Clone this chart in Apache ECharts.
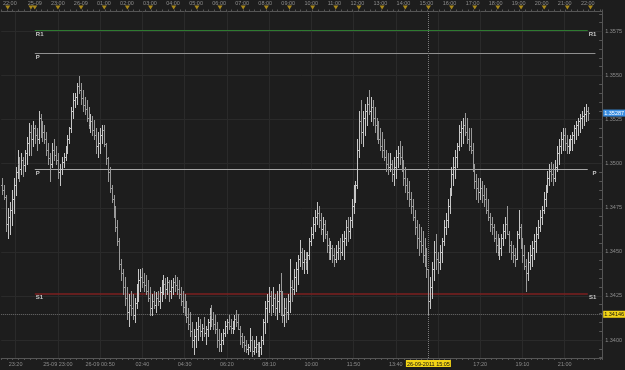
<!DOCTYPE html>
<html><head><meta charset="utf-8">
<script src="https://cdn.jsdelivr.net/npm/echarts@6/dist/echarts.min.js"></script>
<style>html,body{margin:0;padding:0;background:#1d1d1d;}#c{width:625px;height:370px;}</style>
</head><body><div id="c"></div>
<script>
// ---- OHLC data (5-minute bars) ----
const opens = [
1.3488,1.3485,1.3481,1.3466,1.3470,1.3474,1.3480,1.3488,1.3495,1.3500,
1.3497,1.3502,1.3499,1.3506,1.3512,1.3518,1.3514,1.3520,1.3516,1.3514,
1.3526,1.3520,1.3518,1.3514,1.3508,1.3503,1.3500,1.3508,1.3505,1.3502,
1.3495,1.3497,1.3501,1.3504,1.3508,1.3514,1.3520,1.3530,1.3536,1.3538,
1.3544,1.3542,1.3537,1.3533,1.3531,1.3526,1.3522,1.3524,1.3519,1.3516,
1.3510,1.3512,1.3516,1.3519,1.3511,1.3503,1.3495,1.3486,1.3480,1.3473,
1.3464,1.3456,1.3443,1.3438,1.3430,1.3424,1.3416,1.3420,1.3418,1.3414,
1.3421,1.3428,1.3434,1.3436,1.3433,1.3431,1.3428,1.3424,1.3418,1.3422,
1.3420,1.3424,1.3422,1.3427,1.3430,1.3432,1.3429,1.3433,1.3428,1.3430,
1.3433,1.3431,1.3429,1.3426,1.3422,1.3419,1.3417,1.3413,1.3409,1.3405,
1.3400,1.3402,1.3406,1.3408,1.3405,1.3407,1.3404,1.3406,1.3410,1.3414,
1.3412,1.3409,1.3406,1.3400,1.3398,1.3400,1.3404,1.3408,1.3410,1.3408,
1.3407,1.3409,1.3412,1.3410,1.3406,1.3402,1.3399,1.3397,1.3395,1.3396,
1.3400,1.3394,1.3396,1.3398,1.3394,1.3396,1.3400,1.3410,1.3418,1.3422,
1.3425,1.3420,1.3424,1.3418,1.3422,1.3428,1.3420,1.3414,1.3418,1.3416,
1.3422,1.3430,1.3429,1.3436,1.3440,1.3446,1.3450,1.3444,1.3446,1.3444,
1.3448,1.3456,1.3460,1.3466,1.3470,1.3472,1.3468,1.3463,1.3466,1.3460,
1.3454,1.3450,1.3452,1.3448,1.3446,1.3450,1.3452,1.3450,1.3456,1.3458,
1.3464,1.3462,1.3468,1.3476,1.3484,1.3488,1.3508,1.3524,1.3518,1.3526,
1.3530,1.3534,1.3530,1.3532,1.3526,1.3522,1.3518,1.3514,1.3510,1.3508,
1.3504,1.3500,1.3498,1.3500,1.3494,1.3498,1.3504,1.3506,1.3504,1.3500,
1.3492,1.3488,1.3484,1.3480,1.3476,1.3470,1.3464,1.3458,1.3456,1.3454,
1.3448,1.3446,1.3440,1.3422,1.3430,1.3440,1.3450,1.3446,1.3444,1.3450,
1.3456,1.3464,1.3468,1.3476,1.3484,1.3494,1.3498,1.3504,1.3510,1.3518,
1.3520,1.3522,1.3518,1.3514,1.3510,1.3508,1.3498,1.3490,1.3486,1.3484,
1.3486,1.3482,1.3480,1.3474,1.3470,1.3466,1.3464,1.3458,1.3454,1.3450,
1.3452,1.3458,1.3462,1.3466,1.3460,1.3454,1.3450,1.3448,1.3446,1.3460,
1.3464,1.3456,1.3448,1.3442,1.3438,1.3444,1.3448,1.3452,1.3456,1.3460,
1.3464,1.3470,1.3474,1.3480,1.3486,1.3492,1.3496,1.3494,1.3492,1.3498,
1.3506,1.3510,1.3514,1.3516,1.3512,1.3510,1.3512,1.3514,1.3516,1.3520,
1.3522,1.3524,1.3526,1.3527,1.3528,1.3530];
const closes = [
1.3485,1.3481,1.3466,1.3470,1.3474,1.3480,1.3488,1.3495,1.3500,1.3497,
1.3502,1.3499,1.3506,1.3512,1.3518,1.3514,1.3520,1.3516,1.3514,1.3526,
1.3520,1.3518,1.3514,1.3508,1.3503,1.3500,1.3508,1.3505,1.3502,1.3495,
1.3497,1.3501,1.3504,1.3508,1.3514,1.3520,1.3530,1.3536,1.3538,1.3544,
1.3542,1.3537,1.3533,1.3531,1.3526,1.3522,1.3524,1.3519,1.3516,1.3510,
1.3512,1.3516,1.3519,1.3511,1.3503,1.3495,1.3486,1.3480,1.3473,1.3464,
1.3456,1.3443,1.3438,1.3430,1.3424,1.3416,1.3420,1.3418,1.3414,1.3421,
1.3428,1.3434,1.3436,1.3433,1.3431,1.3428,1.3424,1.3418,1.3422,1.3420,
1.3424,1.3422,1.3427,1.3430,1.3432,1.3429,1.3433,1.3428,1.3430,1.3433,
1.3431,1.3429,1.3426,1.3422,1.3419,1.3417,1.3413,1.3409,1.3405,1.3400,
1.3402,1.3406,1.3408,1.3405,1.3407,1.3404,1.3406,1.3410,1.3414,1.3412,
1.3409,1.3406,1.3400,1.3398,1.3400,1.3404,1.3408,1.3410,1.3408,1.3407,
1.3409,1.3412,1.3410,1.3406,1.3402,1.3399,1.3397,1.3395,1.3396,1.3400,
1.3394,1.3396,1.3398,1.3394,1.3396,1.3400,1.3410,1.3418,1.3422,1.3425,
1.3420,1.3424,1.3418,1.3422,1.3428,1.3420,1.3414,1.3418,1.3416,1.3422,
1.3430,1.3429,1.3436,1.3440,1.3446,1.3450,1.3444,1.3446,1.3444,1.3448,
1.3456,1.3460,1.3466,1.3470,1.3472,1.3468,1.3463,1.3466,1.3460,1.3454,
1.3450,1.3452,1.3448,1.3446,1.3450,1.3452,1.3450,1.3456,1.3458,1.3464,
1.3462,1.3468,1.3476,1.3484,1.3488,1.3508,1.3524,1.3518,1.3526,1.3530,
1.3534,1.3530,1.3532,1.3526,1.3522,1.3518,1.3514,1.3510,1.3508,1.3504,
1.3500,1.3498,1.3500,1.3494,1.3498,1.3504,1.3506,1.3504,1.3500,1.3492,
1.3488,1.3484,1.3480,1.3476,1.3470,1.3464,1.3458,1.3456,1.3454,1.3448,
1.3446,1.3440,1.3422,1.3430,1.3440,1.3450,1.3446,1.3444,1.3450,1.3456,
1.3464,1.3468,1.3476,1.3484,1.3494,1.3498,1.3504,1.3510,1.3518,1.3520,
1.3522,1.3518,1.3514,1.3510,1.3508,1.3498,1.3490,1.3486,1.3484,1.3486,
1.3482,1.3480,1.3474,1.3470,1.3466,1.3464,1.3458,1.3454,1.3450,1.3452,
1.3458,1.3462,1.3466,1.3460,1.3454,1.3450,1.3448,1.3446,1.3460,1.3464,
1.3456,1.3448,1.3442,1.3438,1.3444,1.3448,1.3452,1.3456,1.3460,1.3464,
1.3470,1.3474,1.3480,1.3486,1.3492,1.3496,1.3494,1.3492,1.3498,1.3506,
1.3510,1.3514,1.3516,1.3512,1.3510,1.3512,1.3514,1.3516,1.3520,1.3522,
1.3524,1.3526,1.3527,1.3528,1.3530,1.35287];
const lows = [
1.3483,1.3480,1.3462,1.3458,1.3460,1.3465,1.3472,1.3482,1.3492,1.3490,
1.3494,1.3493,1.3496,1.3500,1.3505,1.3505,1.3510,1.3512,1.3508,1.3512,
1.3515,1.3513,1.3512,1.3505,1.3500,1.3490,1.3498,1.3502,1.3500,1.3492,
1.3488,1.3494,1.3498,1.3502,1.3506,1.3512,1.3518,1.3526,1.3532,1.3534,
1.3540,1.3534,1.3530,1.3528,1.3524,1.3520,1.3518,1.3516,1.3514,1.3506,
1.3504,1.3506,1.3512,1.3510,1.3500,1.3490,1.3484,1.3478,1.3470,1.3462,
1.3454,1.3440,1.3434,1.3426,1.3420,1.3412,1.3408,1.3414,1.3412,1.3410,
1.3418,1.3422,1.3428,1.3430,1.3428,1.3426,1.3422,1.3414,1.3414,1.3418,
1.3416,1.3420,1.3418,1.3422,1.3426,1.3424,1.3426,1.3422,1.3424,1.3426,
1.3428,1.3426,1.3424,1.3420,1.3416,1.3414,1.3410,1.3406,1.3402,1.3396,
1.3392,1.3396,1.3400,1.3402,1.3400,1.3402,1.3398,1.3402,1.3406,1.3408,
1.3406,1.3404,1.3396,1.3394,1.3394,1.3398,1.3402,1.3404,1.3406,1.3404,
1.3404,1.3406,1.3408,1.3406,1.3398,1.3396,1.3394,1.3393,1.3392,1.3394,
1.3391,1.3392,1.3393,1.3391,1.3391,1.3392,1.3398,1.3404,1.3410,1.3416,
1.3414,1.3416,1.3414,1.3412,1.3416,1.3414,1.3410,1.3408,1.3410,1.3412,
1.3416,1.3422,1.3426,1.3428,1.3432,1.3442,1.3440,1.3438,1.3440,1.3438,
1.3446,1.3454,1.3458,1.3462,1.3466,1.3464,1.3460,1.3456,1.3458,1.3450,
1.3446,1.3446,1.3444,1.3442,1.3444,1.3446,1.3446,1.3448,1.3446,1.3454,
1.3456,1.3458,1.3464,1.3472,1.3478,1.3486,1.3504,1.3512,1.3510,1.3516,
1.3522,1.3528,1.3524,1.3522,1.3518,1.3514,1.3512,1.3508,1.3504,1.3502,
1.3496,1.3494,1.3496,1.3490,1.3488,1.3492,1.3498,1.3500,1.3496,1.3488,
1.3484,1.3480,1.3476,1.3472,1.3468,1.3460,1.3452,1.3448,1.3450,1.3444,
1.3442,1.3436,1.34146,1.3418,1.3424,1.3434,1.3440,1.3438,1.3440,1.3444,
1.3454,1.3460,1.3464,1.3472,1.3482,1.3488,1.3492,1.3498,1.3508,1.3510,
1.3512,1.3516,1.3512,1.3508,1.3506,1.3496,1.3486,1.3480,1.3478,1.3480,
1.3478,1.3476,1.3472,1.3468,1.3462,1.3460,1.3456,1.3450,1.3448,1.3446,
1.3448,1.3454,1.3458,1.3460,1.3450,1.3446,1.3444,1.3442,1.3446,1.3458,
1.3452,1.3444,1.3440,1.3428,1.3434,1.3440,1.3442,1.3446,1.3450,1.3458,
1.3462,1.3466,1.3472,1.3476,1.3484,1.3488,1.3490,1.3488,1.3490,1.3496,
1.3500,1.3506,1.3508,1.3508,1.3506,1.3506,1.3508,1.3508,1.3512,1.3514,
1.3516,1.3518,1.3520,1.3522,1.3524,1.3525];
const highs = [
1.3492,1.3488,1.3482,1.3475,1.3478,1.3485,1.3492,1.3498,1.3508,1.3504,
1.3506,1.3504,1.3508,1.3515,1.3523,1.3522,1.3524,1.3522,1.3520,1.3530,
1.3528,1.3524,1.3522,1.3518,1.3512,1.3506,1.3512,1.3514,1.3510,1.3506,
1.3500,1.3504,1.3506,1.3510,1.3516,1.3521,1.3532,1.3540,1.3540,1.3546,
1.3550,1.3546,1.3542,1.3538,1.3536,1.3532,1.3528,1.3527,1.3525,1.3520,
1.3518,1.3520,1.3522,1.3522,1.3512,1.3504,1.3498,1.3488,1.3482,1.3476,
1.3468,1.3458,1.3446,1.3440,1.3436,1.3430,1.3426,1.3428,1.3426,1.3424,
1.3432,1.3440,1.3440,1.3441,1.3438,1.3437,1.3434,1.3430,1.3426,1.3428,
1.3427,1.3428,1.3430,1.3434,1.3437,1.3435,1.3436,1.3434,1.3434,1.3435,
1.3437,1.3436,1.3434,1.3430,1.3428,1.3426,1.3422,1.3418,1.3416,1.3410,
1.3406,1.3410,1.3413,1.3412,1.3409,1.3413,1.3408,1.3412,1.3418,1.3420,
1.3416,1.3414,1.3410,1.3406,1.3404,1.3406,1.3411,1.3412,1.3414,1.3412,
1.3411,1.3414,1.3417,1.3415,1.3408,1.3404,1.3402,1.3400,1.3398,1.3407,
1.3402,1.3400,1.3402,1.3399,1.3399,1.3402,1.3412,1.3422,1.3426,1.3430,
1.3428,1.3430,1.3426,1.3428,1.3432,1.3438,1.3428,1.3424,1.3424,1.3426,
1.3446,1.3434,1.3440,1.3444,1.3448,1.3457,1.3452,1.3451,1.3450,1.3450,
1.3458,1.3464,1.3470,1.3474,1.3478,1.3476,1.3472,1.3470,1.3468,1.3462,
1.3458,1.3456,1.3454,1.3452,1.3454,1.3456,1.3458,1.3460,1.3462,1.3468,
1.3470,1.3470,1.3480,1.3488,1.3490,1.3514,1.3530,1.3536,1.3530,1.3534,
1.3538,1.3542,1.3538,1.3536,1.3532,1.3526,1.3524,1.3520,1.3518,1.3514,
1.3508,1.3506,1.3506,1.3502,1.3504,1.3508,1.3510,1.3513,1.3510,1.3502,
1.3498,1.3492,1.3490,1.3484,1.3480,1.3474,1.3468,1.3466,1.3464,1.3462,
1.3458,1.3452,1.3440,1.3436,1.3444,1.3456,1.3460,1.3450,1.3454,1.3458,
1.3468,1.3472,1.3480,1.3486,1.3498,1.3504,1.3508,1.3512,1.3522,1.3524,
1.3526,1.3529,1.3526,1.3520,1.3520,1.3512,1.3500,1.3494,1.3492,1.3492,
1.3490,1.3488,1.3486,1.3480,1.3472,1.3470,1.3466,1.3462,1.3460,1.3458,
1.3460,1.3466,1.3470,1.3476,1.3462,1.3456,1.3454,1.3452,1.3462,1.3474,
1.3466,1.3458,1.3454,1.3446,1.3450,1.3454,1.3456,1.3460,1.3464,1.3468,
1.3474,1.3476,1.3484,1.3488,1.3496,1.3500,1.3501,1.3500,1.3502,1.3510,
1.3514,1.3518,1.3520,1.3520,1.3516,1.3514,1.3516,1.3518,1.3522,1.3524,
1.3526,1.3528,1.3530,1.3532,1.3534,1.3532];

// ---- levels ----
const r1Level = 1.35755;
const pUpperLevel = 1.35625;
const pLevel = 1.34968;
const s1Level = 1.34263;
const lastPrice = 1.35287;
const cursorPrice = 1.34146;
const cursorTime = '26-09 15:05';
const cursorLabel = '26-09-2011 15:05';
const levelStart = '25-09 22:00';
const levelEnd = '26-09 22:00';
const labelEnd = '26-09 22:25';
const upperPEnd = '26-09 22:20';

// ---- axis ticks / labels ----
const yLabelValues = [1.3400,1.3425,1.3450,1.3475,1.3500,1.3525,1.3550,1.3575];
const yMin = 1.33898, yMax = 1.35863;
const topTickLabels = [
 ['23-09 20:55','22:00'],['25-09 22:00','25-09'],['25-09 23:00','23:00'],['26-09 00:00','26-09'],
 ['26-09 01:00','01:00'],['26-09 02:00','02:00'],['26-09 03:00','03:00'],['26-09 04:00','04:00'],
 ['26-09 05:00','05:00'],['26-09 06:00','06:00'],['26-09 07:00','07:00'],['26-09 08:00','08:00'],
 ['26-09 09:00','09:00'],['26-09 10:00','10:00'],['26-09 11:00','11:00'],['26-09 12:00','12:00'],
 ['26-09 13:00','13:00'],['26-09 14:00','14:00'],['26-09 15:00','15:00'],['26-09 16:00','16:00'],
 ['26-09 17:00','17:00'],['26-09 18:00','18:00'],['26-09 19:00','19:00'],['26-09 20:00','20:00'],
 ['26-09 21:00','21:00'],['26-09 22:00','22:00']];
const bottomTickLabels = [
 ['23-09 21:10','23:20'],['25-09 23:00','25-09 23:00'],['26-09 00:50','26-09 00:50'],['26-09 02:40','02:40'],
 ['26-09 04:30','04:30'],['26-09 06:20','06:20'],['26-09 08:10','08:10'],['26-09 10:00','10:00'],
 ['26-09 11:50','11:50'],['26-09 13:40','13:40'],['26-09 15:30','15:30'],['26-09 17:20','17:20'],
 ['26-09 19:10','19:10'],['26-09 21:00','21:00']];
const eventTimes = ['23-09 20:50','23-09 21:50','25-09 22:00','25-09 23:00','26-09 00:00',
 '26-09 01:00','26-09 02:00','26-09 03:00','26-09 04:00','26-09 05:00','26-09 06:00','26-09 07:00',
 '26-09 08:00','26-09 09:00','26-09 10:00','26-09 11:00','26-09 12:00','26-09 13:00','26-09 14:00',
 '26-09 15:00','26-09 16:00','26-09 17:00','26-09 18:00','26-09 19:00','26-09 20:00','26-09 21:00','26-09 22:00'];

// ---- categories (5-minute slots; weekend gap removed) ----
function pad(n){return (n<10?'0':'')+n;}
const categories = [];
for (let k=0;k<17;k++){ const m=20*60+35+5*k; categories.push('23-09 '+pad(Math.floor(m/60))+':'+pad(m%60)); }
for (let k=0; categories.length<313; k++){ let m=22*60+5*k, d=25; if(m>=1440){m-=1440;d=26;} categories.push(pad(d)+'-09 '+pad(Math.floor(m/60))+':'+pad(m%60)); }
const yMinorTicks = [];
for (let k=0;k<=40;k++){ const v=Math.round((1.3390+k*0.0005)*10000)/10000; if(v>=yMin && v<=yMax) yMinorTicks.push(v); }

const topMap = new Map(topTickLabels), botMap = new Map(bottomTickLabels);
const data = closes.map((c,i)=>[i, opens[i], c, lows[i], highs[i]]);

const FONT = 'Liberation Sans';
const axisCol = '#555555', txtCol = '#8c8c8c', gridCol = '#2a2a2a';
const CLEAR = 'rgba(0,0,0,0)';

function xAx(pos, map){
  return {type:'category', data:categories, gridIndex:0, position:pos, boundaryGap:true,
    axisLine:{show:true, lineStyle:{color:axisCol}},
    axisTick:{show:true, interval:2, length:2, lineStyle:{color:axisCol}},
    axisLabel:{show:true, interval:(i,v)=>map.has(v), formatter:(v)=>map.get(v)||'',
      fontSize:5.5, fontFamily:FONT, color:txtCol, margin:pos==='top'?5.5:3},
    splitLine:{show:false}};
}
function endLabel(level, text){
  return [{coord:[levelEnd, level], lineStyle:{color:CLEAR}, label:{show:true, position:'insideEndBottom', formatter:text, distance:1, color:'#c8c8c8'}},{coord:[labelEnd, level]}];
}

const chart = echarts.init(document.getElementById('c'), null, {renderer:'canvas'});
chart.setOption({
  backgroundColor:'#1d1d1d',
  animation:false,
  grid:[{left:1, right:20, top:11, bottom:12},{left:1, right:20, top:6, height:3}],
  xAxis:[xAx('bottom', botMap), xAx('top', topMap),
    {type:'category', data:categories, gridIndex:1, show:false, boundaryGap:true}],
  yAxis:[{type:'value', gridIndex:0, position:'right', min:yMin, max:yMax, scale:true,
      axisLine:{show:true, lineStyle:{color:axisCol}},
      axisTick:{show:true, inside:true, length:3, customValues:yMinorTicks, lineStyle:{color:axisCol}},
      axisLabel:{show:true, customValues:yLabelValues, formatter:(v)=>v.toFixed(4), fontSize:5.5, fontFamily:FONT, color:txtCol, margin:3},
      splitLine:{show:false}},
    {type:'value', gridIndex:1, show:false, min:0, max:1}],
  series:[
    {type:'line', name:'grid', xAxisIndex:0, yAxisIndex:0, data:[], z:1, silent:true,
      markLine:{silent:true, precision:6, symbol:['none','none'], label:{show:false},
        lineStyle:{color:gridCol, width:1, type:'solid'},
        data: yLabelValues.map(v=>({yAxis:v})).concat(bottomTickLabels.map(t=>({xAxis:t[0]})))}},
    {type:'line', name:'levels', xAxisIndex:0, yAxisIndex:0, data:[], z:3, silent:true,
      markLine:{silent:true, precision:6, symbol:['none','none'],
        label:{fontSize:6, fontFamily:FONT, fontWeight:'bold', color:'#c8c8c8'},
        data:[
          [{coord:[levelStart, r1Level], lineStyle:{color:'#2f7a31', width:1, type:'solid'}, label:{show:true, position:'insideStartBottom', formatter:'R1', distance:1}},{coord:[levelEnd, r1Level]}],
          endLabel(r1Level, 'R1'),
          [{coord:[levelStart, pUpperLevel], lineStyle:{color:'#8f8f8f', width:1, type:'solid'}, label:{show:true, position:'insideStartBottom', formatter:'P', distance:1}},{coord:[upperPEnd, pUpperLevel]}],
          [{coord:[levelStart, pLevel], lineStyle:{color:'#a8a8a8', width:1, type:'solid'}, label:{show:true, position:'insideStartBottom', formatter:'P', distance:1}},{coord:[levelEnd, pLevel]}],
          endLabel(pLevel, 'P'),
          [{coord:[levelStart, s1Level], lineStyle:{color:'#7c1f1f', width:1.5, type:'solid'}, label:{show:true, position:'insideStartBottom', formatter:'S1', distance:1}},{coord:[levelEnd, s1Level]}],
          endLabel(s1Level, 'S1')
        ]}},
    {type:'custom', name:'EURUSD', xAxisIndex:0, yAxisIndex:0, z:5, data:data,
      encode:{x:0, y:[1,2,3,4]},
      renderItem:function(params, api){
        const i = api.value(0);
        const ph = api.coord([i, api.value(4)]);
        const pl = api.coord([i, api.value(3)]);
        const po = api.coord([i, api.value(1)]);
        const pc = api.coord([i, api.value(2)]);
        const x = Math.round(ph[0]) + 0.5;
        const col = api.value(2) >= api.value(1) ? '#c6c6c6' : '#999999';
        const st = {stroke:col, lineWidth:1};
        const yo = Math.round(po[1]) + 0.5, yc = Math.round(pc[1]) + 0.5;
        return {type:'group', children:[
          {type:'line', shape:{x1:x, y1:Math.round(ph[1]), x2:x, y2:Math.round(pl[1])+1}, style:st},
          {type:'line', shape:{x1:x-1.5, y1:yo, x2:x, y2:yo}, style:st},
          {type:'line', shape:{x1:x, y1:yc, x2:x+1.5, y2:yc}, style:st}
        ]};
      }},
    {type:'line', name:'cursor', xAxisIndex:0, yAxisIndex:0, data:[], z:6, silent:true,
      markLine:{silent:true, precision:6, symbol:['none','none'],
        label:{fontSize:5.5, fontFamily:FONT},
        data:[
          {xAxis:cursorTime, lineStyle:{color:'#7a7a7a', type:'dotted', width:1},
            label:{show:true, position:'start', formatter:cursorLabel, backgroundColor:'#f2d416', color:'#111', padding:[1,1,0,1], distance:2}},
          {yAxis:cursorPrice, lineStyle:{color:'#6e6e6e', type:'dotted', width:1},
            label:{show:true, position:'end', formatter:cursorPrice.toFixed(5), backgroundColor:'#f2d416', color:'#111', padding:[1,1,0,1], distance:1}},
          {yAxis:lastPrice, lineStyle:{color:CLEAR},
            label:{show:true, position:'end', formatter:lastPrice.toFixed(5), backgroundColor:'#3a8ee0', color:'#ffffff', padding:[1,1,0,1], distance:1}}
        ]}},
    {type:'scatter', name:'events', xAxisIndex:2, yAxisIndex:1, z:4, silent:true,
      symbol:'triangle', symbolRotate:180, symbolSize:[5,4],
      itemStyle:{color:'#caa21c'},
      data: eventTimes.map(t=>[t, 0.5])}
  ]
});
</script>
</body></html>
